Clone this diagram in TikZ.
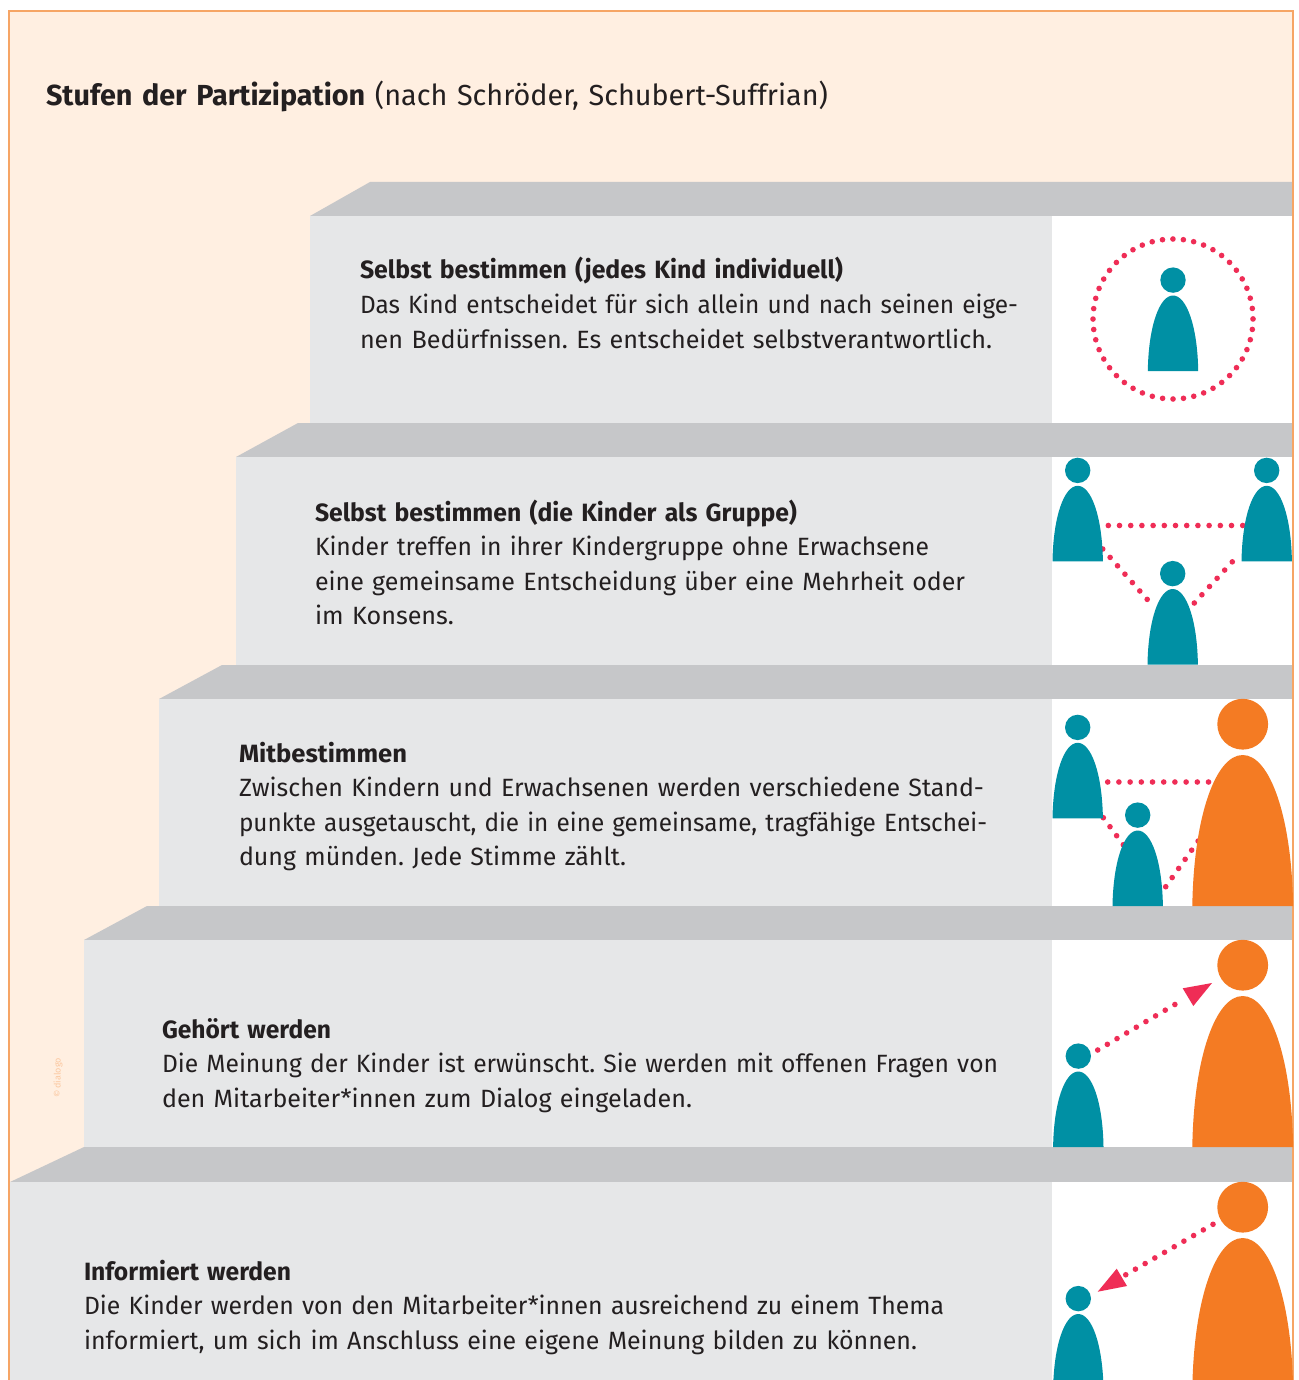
\documentclass[tikz,border=0pt]{standalone}
\usepackage{fontspec}
\setmainfont[WordSpace=0.85,BoldFeatures={WordSpace=1.0}]{Fira Sans}
\frenchspacing
\newcommand{\fitl}[2]{\resizebox{#1pt}{\height}{#2}}
\definecolor{pagebg}{HTML}{FFEFE1}
\definecolor{framec}{HTML}{F6A565}
\definecolor{facec}{HTML}{E6E7E8}
\definecolor{treadc}{HTML}{C6C7C9}
\definecolor{tealc}{HTML}{0090A4}
\definecolor{orangec}{HTML}{F47B23}
\definecolor{dotc}{HTML}{EF2D56}
\definecolor{inkc}{HTML}{231F20}
\definecolor{markc}{HTML}{FBC79F}
\tikzset{
  stepface/.style={fill=facec,draw=none},
  steptread/.style={fill=treadc,draw=none},
  stepicon/.style={fill=white,draw=none},
  dots/.style={draw=dotc,line width=5.6pt,line cap=round,dash pattern=on 0pt off 11.2pt},
  ringdots/.style={dots,dash pattern=on 0pt off 10.47pt},
  arrowhead/.style={fill=dotc,draw=none},
  stepnote/.style={anchor=base west,inner sep=0pt,outer sep=0pt,text width=930pt,align=left,text=inkc,
     font=\fontsize{25}{34.5}\selectfont\frenchspacing},
  pics/person/.style={code={
    \fill[#1] (0,-90.9) circle (12.7);
    \fill[#1] (-25.2,0) .. controls (-24.5,-45) and (-13.5,-75.5) .. (0,-75.5)
       .. controls (13.5,-75.5) and (24.5,-45) .. (25.2,0) -- cycle;
  }},
}
\begin{document}
\begin{tikzpicture}[x=1pt,y=-1pt]
\useasboundingbox (0,0) rectangle (1298,1380);
\clip (0,0) rectangle (1298,1380);
% page
\fill[pagebg] (9,11) rectangle (1293,1380);
% steps
\fill[steptread] (310,216) -- (370,182) -- (1292,182) -- (1292,216) -- cycle;
\fill[stepface] (310,216) rectangle (1052,423);
\fill[stepicon] (1052,216) rectangle (1292,423);
\fill[steptread] (236,457) -- (298,423) -- (1292,423) -- (1292,457) -- cycle;
\fill[stepface] (236,457) rectangle (1052,665);
\fill[stepicon] (1052,457) rectangle (1292,665);
\fill[steptread] (159,699) -- (222,665) -- (1292,665) -- (1292,699) -- cycle;
\fill[stepface] (159,699) rectangle (1052,906);
\fill[stepicon] (1052,699) rectangle (1292,906);
\fill[steptread] (84,940) -- (147,906) -- (1292,906) -- (1292,940) -- cycle;
\fill[stepface] (84,940) rectangle (1052,1147);
\fill[stepicon] (1052,940) rectangle (1292,1147);
\fill[steptread] (10,1182) -- (84,1147) -- (1292,1147) -- (1292,1182) -- cycle;
\fill[stepface] (10,1182) rectangle (1052,1380);
\fill[stepicon] (1052,1182) rectangle (1292,1380);
% frame
\draw[framec,line width=1.6pt] (9,1380) -- (9,11) -- (1293,11) -- (1293,1380);
% title
\node[stepnote,text width=1200pt,font=\fontsize{29}{34.5}\selectfont\frenchspacing] (title) at (46,106)
  {\fitl{782}{\textbf{Stufen der Partizipation} (nach Schröder, Schubert-Suffrian)}};
% watermark
\node[rotate=90,text=markc,inner sep=0pt,font=\fontsize{9}{10}\selectfont] (mark) at (58,1078) {© dialogo};
% texts
\node[stepnote] (t1) at (360,279) {\fitl{483}{\textbf{Selbst bestimmen (jedes Kind individuell)}}\\
\fitl{658}{Das Kind entscheidet für sich allein und nach seinen eige-}\\
\fitl{632}{nen Bedürfnissen. Es entscheidet selbstverantwortlich.}};
\node[stepnote] (t2) at (315,521) {\fitl{482}{\textbf{Selbst bestimmen (die Kinder als Gruppe)}}\\
\fitl{614}{Kinder treffen in ihrer Kindergruppe ohne Erwachsene}\\
\fitl{650}{eine gemeinsame Entscheidung über eine Mehrheit oder}\\
\fitl{139}{im Konsens.}};
\node[stepnote] (t3) at (239,762) {\fitl{168}{\textbf{Mitbestimmen}}\\
\fitl{745}{Zwischen Kindern und Erwachsenen werden verschiedene Stand-}\\
\fitl{748}{punkte ausgetauscht, die in eine gemeinsame, tragfähige Entschei-}\\
\fitl{387}{dung münden. Jede Stimme zählt.}};
\node[stepnote] (t4) at (162,1038) {\fitl{169}{\textbf{Gehört werden}}\\
\fitl{836}{Die Meinung der Kinder ist erwünscht. Sie werden mit offenen Fragen von}\\
\fitl{530}{den Mitarbeiter*innen zum Dialog eingeladen.}};
\node[stepnote] (t5) at (84,1280) {\fitl{207}{\textbf{Informiert werden}}\\
\fitl{860}{Die Kinder werden von den Mitarbeiter*innen ausreichend zu einem Thema}\\
\fitl{833}{informiert, um sich im Anschluss eine eigene Meinung bilden zu können.}};
% connector anchors
\coordinate (ringc) at (1173,319);
\coordinate (a1) at (1108.3,525.5); \coordinate (a2) at (1244,525.5);
\coordinate (b1) at (1102.7,549); \coordinate (b2) at (1153.5,606.5);
\coordinate (c1) at (1194.3,603); \coordinate (c2) at (1239.5,554);
\coordinate (d1) at (1107.7,782); \coordinate (d2) at (1209.5,782);
\coordinate (e1) at (1103.3,817.7); \coordinate (e2) at (1123.5,845);
\coordinate (f1) at (1165.7,886.7); \coordinate (f2) at (1198.5,840.5);
\coordinate (g1) at (1097.7,1050); \coordinate (g2) at (1181.3,1000.7);
\coordinate (h1) at (1213,1224.3); \coordinate (h2) at (1121.5,1277.2);
% dotted connectors
\draw[ringdots] (ringc) circle (80);
\draw[dots] (a1) -- (a2);
\draw[dots] (b1) -- (b2);
\draw[dots] (c1) -- (c2);
\draw[dots] (d1) -- (d2);
\draw[dots] (e1) -- (e2);
\draw[dots] (f1) -- (f2);
\draw[dots] (g1) -- (g2);
\draw[dots] (h1) -- (h2);
% arrowheads
\fill[arrowhead] (1212,983) -- (1182.7,988.3) -- (1193.3,1006) -- cycle;
\fill[arrowhead] (1097.7,1291.7) -- (1116.7,1268.7) -- (1127,1286) -- cycle;
% persons
\pic at (1173,371) {person=tealc};
\pic at (1077.7,561.3) {person=tealc};
\pic at (1266.7,561.3) {person=tealc};
\pic at (1172.7,664.5) {person=tealc};
\pic at (1077.7,818.3) {person=tealc};
\pic at (1137.7,906) {person=tealc};
\pic[scale=2] at (1242.7,906) {person=orangec};
\pic at (1078.3,1147) {person=tealc};
\pic[scale=2] at (1242.7,1147) {person=orangec};
\pic at (1078.3,1389.5) {person=tealc};
\pic[scale=2] at (1242.7,1389) {person=orangec};
\end{tikzpicture}
\end{document}
